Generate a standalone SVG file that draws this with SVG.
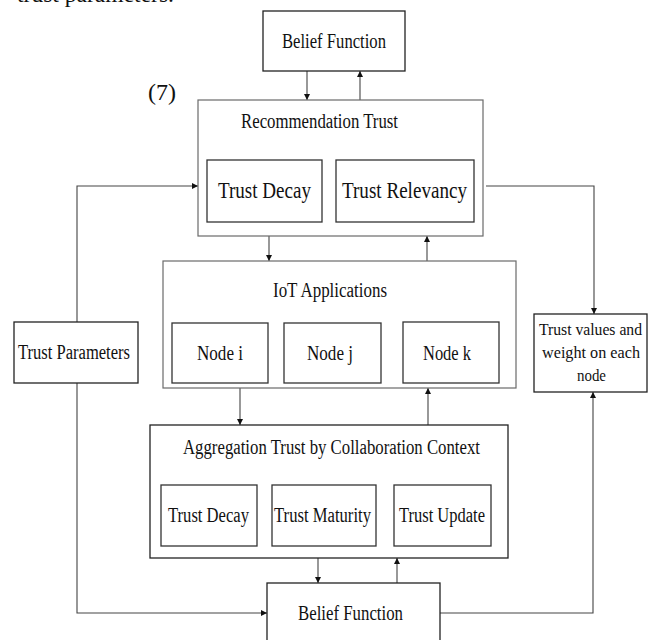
<svg xmlns="http://www.w3.org/2000/svg" width="653" height="640" viewBox="0 0 653 640">
  <defs>
    <marker id="ah" viewBox="0 0 10 10" refX="10" refY="5" markerWidth="7" markerHeight="6" markerUnits="userSpaceOnUse" orient="auto">
      <path d="M0,0 L10,5 L0,10 Z" fill="#111"/>
    </marker>
    <style>
      .box { fill: none; stroke: #222; stroke-width: 1.3; }
      .outer { fill: none; stroke: #6a6a6a; stroke-width: 1.2; }
      .inner { fill: #ffffff; stroke: #333; stroke-width: 1.3; }
      .wbox { fill: #ffffff; stroke: #222; stroke-width: 1.3; }
      .t { font-family: "Liberation Serif", "Times New Roman", serif; font-size: 20px; fill: #111; }
      .ts { font-family: "Liberation Serif", "Times New Roman", serif; font-size: 16px; fill: #111; }
      .tl { font-family: "Liberation Serif", "Times New Roman", serif; font-size: 23px; fill: #111; }
      .ca { fill: none; stroke: #444; stroke-width: 1.1; marker-end: url(#ah); }
    </style>
  </defs>
  <rect x="0" y="0" width="653" height="640" fill="#ffffff"/>
  <text class="tl" x="17" y="2" textLength="157" lengthAdjust="spacingAndGlyphs">trust parameters.</text>
  <text class="tl" x="148" y="100" textLength="28" lengthAdjust="spacingAndGlyphs">(7)</text>

  <g id="connectors">
    <line class="ca" x1="307" y1="71" x2="307" y2="100"/>
    <line class="ca" x1="360" y1="100" x2="360" y2="71"/>
    <line class="ca" x1="269" y1="236" x2="269" y2="261"/>
    <line class="ca" x1="427" y1="261" x2="427" y2="236"/>
    <line class="ca" x1="240" y1="388" x2="240" y2="425"/>
    <line class="ca" x1="428" y1="425" x2="428" y2="388"/>
    <line class="ca" x1="318" y1="558" x2="318" y2="583"/>
    <line class="ca" x1="397" y1="583" x2="397" y2="558"/>
    <polyline class="ca" points="77,322 77,186 198,186"/>
    <polyline class="ca" points="77,383 77,613 267,613"/>
    <polyline class="ca" points="486,186 594,186 594,314"/>
    <polyline class="ca" points="440,613 593,613 593,392"/>
  </g>

  <g id="belief-top">
    <rect class="wbox" x="263" y="11" width="142" height="60"/>
    <text class="t" x="282" y="48" textLength="104" lengthAdjust="spacingAndGlyphs">Belief Function</text>
  </g>

  <g id="recommendation-trust">
    <rect class="outer" x="198" y="100" width="285" height="136"/>
    <text class="t" x="241" y="128" textLength="157" lengthAdjust="spacingAndGlyphs">Recommendation Trust</text>
  </g>
  <g id="rec-trust-decay">
    <rect class="inner" x="207" y="160" width="115" height="62"/>
    <text class="tl" x="218" y="198" textLength="93" lengthAdjust="spacingAndGlyphs">Trust Decay</text>
  </g>
  <g id="rec-trust-relevancy">
    <rect class="inner" x="336" y="160" width="138" height="62"/>
    <text class="tl" x="342" y="198" textLength="125" lengthAdjust="spacingAndGlyphs">Trust Relevancy</text>
  </g>

  <g id="iot-applications">
    <rect class="outer" x="163" y="261" width="353" height="127"/>
    <text class="t" x="273" y="297" textLength="114" lengthAdjust="spacingAndGlyphs">IoT Applications</text>
  </g>
  <g id="node-i">
    <rect class="inner" x="172" y="323" width="96" height="60"/>
    <text class="t" x="197" y="360" textLength="46" lengthAdjust="spacingAndGlyphs">Node i</text>
  </g>
  <g id="node-j">
    <rect class="inner" x="284" y="323" width="97" height="60"/>
    <text class="t" x="307" y="360" textLength="46" lengthAdjust="spacingAndGlyphs">Node j</text>
  </g>
  <g id="node-k">
    <rect class="inner" x="403" y="322" width="96" height="61"/>
    <text class="t" x="423" y="360" textLength="48" lengthAdjust="spacingAndGlyphs">Node k</text>
  </g>

  <g id="trust-parameters">
    <rect class="wbox" x="14" y="322" width="124" height="61"/>
    <text class="t" x="18" y="359" textLength="112" lengthAdjust="spacingAndGlyphs">Trust Parameters</text>
  </g>

  <g id="trust-values">
    <rect class="wbox" x="534" y="314" width="113" height="78"/>
    <text class="ts" x="539" y="335" textLength="103" lengthAdjust="spacingAndGlyphs">Trust values and</text>
    <text class="ts" x="542" y="358" textLength="98" lengthAdjust="spacingAndGlyphs">weight on each</text>
    <text class="ts" x="577" y="381" textLength="29" lengthAdjust="spacingAndGlyphs">node</text>
  </g>

  <g id="aggregation-trust">
    <rect class="box" x="150" y="425" width="358" height="133"/>
    <text class="t" x="183" y="454" textLength="297" lengthAdjust="spacingAndGlyphs">Aggregation Trust by Collaboration Context</text>
  </g>
  <g id="agg-trust-decay">
    <rect class="inner" x="161" y="485" width="96" height="61"/>
    <text class="t" x="168" y="522" textLength="81" lengthAdjust="spacingAndGlyphs">Trust Decay</text>
  </g>
  <g id="agg-trust-maturity">
    <rect class="inner" x="272" y="485" width="104" height="61"/>
    <text class="t" x="274" y="522" textLength="97" lengthAdjust="spacingAndGlyphs">Trust Maturity</text>
  </g>
  <g id="agg-trust-update">
    <rect class="inner" x="394" y="485" width="97" height="61"/>
    <text class="t" x="399" y="522" textLength="86" lengthAdjust="spacingAndGlyphs">Trust Update</text>
  </g>

  <g id="belief-bottom">
    <rect class="wbox" x="267" y="583" width="173" height="70"/>
    <text class="t" x="298" y="620" textLength="105" lengthAdjust="spacingAndGlyphs">Belief Function</text>
  </g>
</svg>
